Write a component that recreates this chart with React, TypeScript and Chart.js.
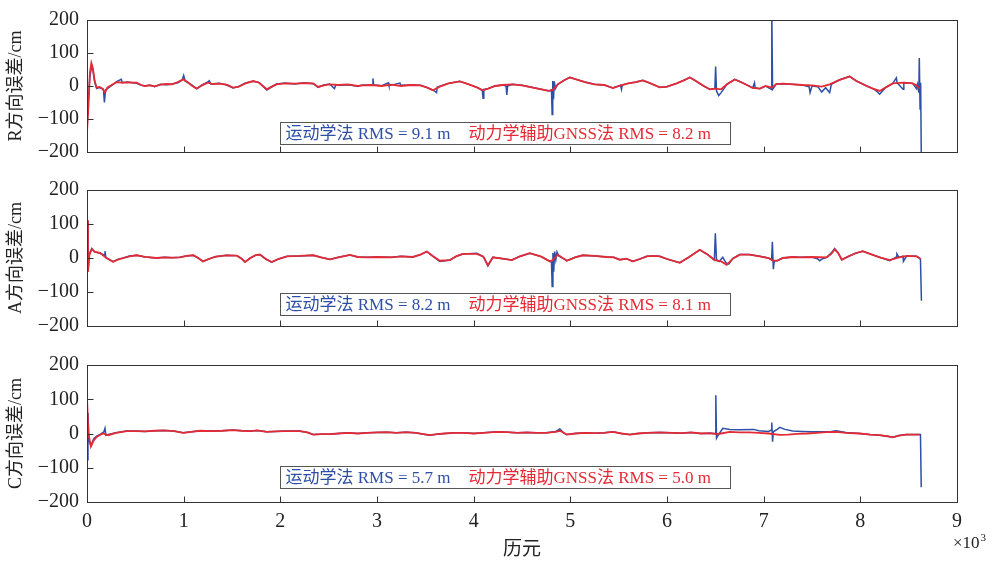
import React, { useEffect, useRef } from 'react';
import { Chart, registerables } from 'chart.js';
Chart.register(...registerables);

// ---------- data ----------
const X_MIN = 0;
const X_MAX = 9000;
const X_STEP = 1000;
const Y_TICKS = [-200, -100, 0, 100, 200];
const METHOD_NAMES = ['运动学法', '动力学辅助GNSS法'];
const AXIS_TITLES = ['R方向误差/cm', 'A方向误差/cm', 'C方向误差/cm'];
const RMS_R = [9.1, 8.2];
const RMS_A = [8.2, 8.1];
const RMS_C = [5.7, 5.0];
const X_TITLE = '历元';

// [epoch, error cm]
const R_RED: [number, number][] = [
  [0,-140],[15,-60],[30,40],[45,70],[60,55],[80,15],[100,-5],[130,-3],[160,-8],[186,-20],
  [210,-5],[250,2],[310,12],[360,10],[420,11],[515,10],[560,3],[600,0],[650,2],[700,-1],
  [760,4],[820,6],[880,5],[940,12],[995,20],[1040,12],[1090,0],[1135,-8],[1190,2],[1250,10],
  [1300,6],[1370,7],[1445,4],[1510,-5],[1565,-3],[1640,8],[1720,15],[1780,10],[1860,-10],[1910,-2],
  [1960,5],[2050,8],[2150,7],[2250,9],[2340,8],[2390,-3],[2450,2],[2510,5],[2600,3],[2700,5],
  [2800,0],[2850,2],[2950,3],[3050,0],[3150,4],[3250,0],[3350,3],[3450,2],[3520,-5],[3578,-13],
  [3650,-2],[3740,8],[3857,14],[3950,5],[4040,-5],[4095,-13],[4150,-8],[4220,0],[4300,3],[4400,5],
  [4500,2],[4600,-4],[4700,-10],[4780,-15],[4819,-12],[4870,5],[4940,18],[4995,26],[5060,20],[5150,12],
  [5250,5],[5350,3],[5440,-6],[5520,2],[5600,8],[5680,12],[5750,17],[5830,8],[5925,-4],[6000,-2],
  [6100,8],[6180,18],[6236,26],[6300,15],[6380,0],[6443,-10],[6500,-8],[6560,-10],[6620,5],[6701,20],
  [6780,10],[6887,-6],[6960,-8],[7020,0],[7084,-5],[7130,6],[7200,7],[7300,5],[7400,3],[7500,2],
  [7600,-2],[7683,5],[7780,18],[7890,29],[7960,15],[8066,0],[8130,-8],[8200,-15],[8260,-5],[8335,8],
  [8450,10],[8542,8],[8580,2],[8614,-8],
];
const R_BLUE: [number, number][] = [
  [0,-120],[15,-40],[30,30],[45,55],[60,50],[80,10],[100,-8],[130,-5],[170,-10],[180,-50],
  [192,-12],[250,0],[310,14],[355,20],[365,10],[420,12],[515,8],[560,2],[600,0],[650,3],
  [700,-2],[760,5],[820,4],[880,6],[940,10],[985,18],[1000,32],[1015,15],[1090,2],[1135,-8],
  [1190,3],[1250,12],[1265,16],[1280,6],[1370,8],[1445,3],[1510,-6],[1565,-2],[1640,9],[1720,14],
  [1780,11],[1860,-12],[1910,-3],[1960,6],[2050,9],[2150,6],[2250,10],[2340,7],[2390,-4],[2450,3],
  [2510,6],[2560,-8],[2575,4],[2600,2],[2700,4],[2800,-1],[2850,3],[2950,2],[2958,23],[2966,3],
  [3050,1],[3116,10],[3124,1],[3237,9],[3245,2],[3350,3],[3450,2],[3520,-5],[3578,-12],[3616,-20],
  [3624,-3],[3740,8],[3857,14],[3950,5],[4040,-5],[4090,-14],[4097,-37],[4105,-10],[4150,-8],[4220,0],
  [4300,3],[4335,0],[4343,-27],[4351,0],[4400,5],[4500,2],[4600,-4],[4700,-10],[4780,-15],[4805,-12],
  [4812,-86],[4818,15],[4826,-40],[4834,14],[4845,-8],[4870,5],[4940,18],[4995,26],[5060,20],[5150,12],
  [5250,5],[5350,3],[5440,-6],[5520,2],[5529,-10],[5537,3],[5600,8],[5680,12],[5750,17],[5830,8],
  [5925,-4],[6000,-2],[6100,8],[6180,18],[6236,26],[6300,15],[6380,0],[6443,-10],[6495,-8],[6503,59],
  [6512,-15],[6535,-29],[6560,-20],[6620,5],[6701,20],[6780,10],[6887,-6],[6905,10],[6912,-5],[6960,-8],
  [7020,0],[7078,-10],[7084,230],[7092,-10],[7130,6],[7200,7],[7300,5],[7400,3],[7470,-2],[7480,-20],
  [7500,0],[7560,-2],[7600,-18],[7640,-5],[7683,-20],[7700,5],[7780,18],[7890,29],[7960,15],[8066,0],
  [8130,-8],[8166,-15],[8200,-25],[8260,-5],[8335,8],[8373,25],[8380,10],[8442,-10],[8450,10],[8542,8],
  [8580,-8],[8590,5],[8605,-20],[8610,85],[8618,-70],[8624,10],[8632,-260],
];

const A_RED: [number, number][] = [
  [0,110],[10,-40],[25,10],[50,26],[80,18],[134,15],[200,0],[270,-11],[320,-5],[375,0],
  [440,5],[515,8],[600,3],[720,0],[800,2],[880,1],[960,2],[1030,6],[1100,8],[1150,0],
  [1200,-10],[1260,-3],[1330,4],[1440,8],[1550,7],[1600,-2],[1635,-12],[1690,0],[1750,9],[1790,10],
  [1850,-3],[1910,-12],[1980,-3],[2070,5],[2200,6],[2340,8],[2420,2],[2513,-4],[2600,2],[2720,9],
  [2800,3],[2900,2],[3000,3],[3150,2],[3250,5],[3371,3],[3450,10],[3516,19],[3580,5],[3650,-8],
  [3754,-6],[3820,5],[3888,12],[4033,12],[4100,4],[4147,-21],[4199,2],[4300,-2],[4395,-6],[4480,5],
  [4581,14],[4700,4],[4788,-10],[4819,-6],[4870,10],[4964,-8],[5050,2],[5129,8],[5250,6],[5378,3],
  [5450,2],[5512,-5],[5580,-2],[5646,-10],[5720,-3],[5791,5],[5860,6],[5925,5],[6000,-3],[6132,-14],
  [6230,3],[6339,24],[6420,10],[6494,-6],[6560,-10],[6618,-20],[6680,-2],[6753,10],[6850,10],[6960,5],
  [7050,0],[7094,-8],[7140,-8],[7198,0],[7300,3],[7373,2],[7500,3],[7652,2],[7700,12],[7735,25],
  [7770,15],[7808,-5],[7880,5],[7950,14],[8025,20],[8100,12],[8200,2],[8304,-6],[8400,2],[8480,6],
  [8583,5],[8625,-3],
];
const A_BLUE: [number, number][] = [
  [0,110],[10,-40],[25,12],[50,28],[80,18],[134,14],[180,8],[186,20],[195,2],[270,-11],
  [320,-4],[375,0],[440,6],[515,8],[600,3],[720,0],[800,2],[880,1],[960,2],[1030,6],
  [1100,8],[1150,0],[1200,-10],[1260,-3],[1330,4],[1440,8],[1550,7],[1600,-2],[1635,-12],[1690,0],
  [1750,9],[1790,10],[1850,-3],[1910,-12],[1980,-3],[2070,5],[2200,6],[2340,8],[2420,2],[2513,-4],
  [2600,2],[2720,9],[2800,3],[2900,2],[3000,3],[3150,2],[3250,5],[3371,3],[3450,10],[3516,19],
  [3580,5],[3650,-10],[3754,-6],[3820,5],[3888,12],[4033,14],[4100,4],[4147,-23],[4199,2],[4300,-2],
  [4395,-6],[4480,5],[4581,14],[4700,4],[4788,-10],[4805,-12],[4812,-84],[4820,15],[4828,-40],[4838,19],
  [4850,-5],[4862,18],[4880,6],[4964,-8],[5050,2],[5129,8],[5250,6],[5378,3],[5450,2],[5512,-5],
  [5580,-2],[5646,-10],[5720,-3],[5791,5],[5860,6],[5925,5],[6000,-3],[6132,-14],[6230,3],[6339,24],
  [6420,10],[6490,-6],[6500,73],[6512,-5],[6540,-10],[6577,2],[6610,-14],[6640,-18],[6680,-2],[6753,10],
  [6850,10],[6960,5],[7050,0],[7082,-5],[7090,48],[7100,-33],[7110,-8],[7140,-8],[7198,0],[7300,3],
  [7373,2],[7500,3],[7560,-3],[7580,-8],[7610,-2],[7652,2],[7700,15],[7735,28],[7770,15],[7808,-5],
  [7880,5],[7950,14],[8025,20],[8100,12],[8200,2],[8304,-8],[8373,3],[8378,12],[8400,2],[8442,5],
  [8446,-10],[8480,6],[8583,5],[8622,-3],[8632,-126],
];

const C_RED: [number, number][] = [
  [0,103],[15,0],[40,-38],[70,-20],[100,-10],[140,-3],[170,0],[186,-2],[220,-5],[300,2],
  [410,7],[500,7],[600,6],[700,8],[800,9],[900,7],[995,2],[1080,5],[1170,8],[1300,7],
  [1400,8],[1510,10],[1600,8],[1700,7],[1760,9],[1860,5],[1950,6],[2050,7],[2200,7],[2280,3],
  [2340,-3],[2420,-2],[2510,-2],[2600,0],[2700,2],[2800,0],[2900,2],[3000,3],[3100,4],[3200,2],
  [3300,4],[3400,2],[3480,-2],[3547,-5],[3620,-2],[3700,0],[3800,2],[3900,2],[4000,0],[4100,2],
  [4240,5],[4350,4],[4450,2],[4550,3],[4650,2],[4750,2],[4850,5],[4891,8],[4930,2],[4964,-3],
  [5050,0],[5150,2],[5250,1],[5350,2],[5440,5],[5530,0],[5615,-3],[5700,0],[5800,2],[5925,3],
  [6050,2],[6150,1],[6250,3],[6350,0],[6450,1],[6505,-2],[6560,0],[6650,5],[6750,3],[6850,3],
  [6950,2],[7050,0],[7167,-4],[7250,-3],[7350,-1],[7450,0],[7550,2],[7650,4],[7750,5],[7850,2],
  [7993,0],[8100,-3],[8200,-5],[8280,-8],[8335,-11],[8400,-6],[8473,-3],[8550,-3],[8614,-3],
];
const C_BLUE: [number, number][] = [
  [0,-77],[10,60],[20,-20],[40,-35],[70,-15],[100,-8],[140,-2],[175,5],[186,15],[195,-5],
  [220,-3],[300,2],[410,7],[500,7],[600,6],[700,8],[800,9],[900,7],[995,2],[1080,5],
  [1170,8],[1300,7],[1400,8],[1510,10],[1600,8],[1700,7],[1760,9],[1860,5],[1950,6],[2050,7],
  [2200,7],[2280,3],[2340,-3],[2420,-2],[2510,-2],[2600,0],[2700,2],[2800,0],[2900,2],[3000,3],
  [3100,4],[3200,2],[3300,4],[3400,2],[3480,-2],[3547,-5],[3620,-2],[3700,0],[3800,2],[3900,2],
  [4000,0],[4100,2],[4240,5],[4350,4],[4450,2],[4550,3],[4650,2],[4750,2],[4850,6],[4891,13],
  [4930,2],[4964,-3],[5050,0],[5150,2],[5250,1],[5350,2],[5440,5],[5530,0],[5615,-3],[5700,0],
  [5800,2],[5925,3],[6050,2],[6150,1],[6250,3],[6350,0],[6450,1],[6498,0],[6505,112],[6512,-14],
  [6530,-5],[6577,15],[6650,12],[6750,11],[6897,12],[6950,8],[7050,6],[7080,10],[7084,32],[7092,-24],
  [7100,5],[7140,12],[7167,18],[7220,12],[7300,7],[7400,6],[7500,5],[7600,5],[7700,6],[7750,8],
  [7850,3],[7993,0],[8100,-3],[8200,-5],[8280,-8],[8335,-11],[8400,-6],[8473,-3],[8550,-3],[8622,-3],
  [8630,-157],
];

// ---------- styles ----------
const BLUE = '#2d4fa6';
const RED = '#e42a35';
const AXIS = '#333333';
const SERIF = '"Liberation Serif", "Times New Roman", "Noto Sans CJK SC", serif';

type Panel = {
  title: string;
  red: [number, number][];
  blue: [number, number][];
  rms: number[];
  top: number;
  bottom: number;
  legendTop: number;
  showX: boolean;
};

const PANELS: Panel[] = [
  { title: AXIS_TITLES[0], red: R_RED, blue: R_BLUE, rms: RMS_R, top: 16, bottom: 152, legendTop: 122, showX: false },
  { title: AXIS_TITLES[1], red: A_RED, blue: A_BLUE, rms: RMS_A, top: 190, bottom: 326, legendTop: 293, showX: false },
  { title: AXIS_TITLES[2], red: C_RED, blue: C_BLUE, rms: RMS_C, top: 365, bottom: 502, legendTop: 466, showX: true },
];

const W = 992;
const H = 567;
const LEFT = 87;
const RIGHT = 957;
const X_AXIS_H = 65;

function makeChart(canvas: HTMLCanvasElement, p: Panel) {
  const framePlugin = {
    id: 'frame',
    afterDraw(chart: any) {
      const { ctx, chartArea: a, scales } = chart;
      ctx.save();
      ctx.strokeStyle = AXIS;
      ctx.lineWidth = 1;
      const l = Math.round(a.left) + 0.5;
      const t = Math.round(a.top) + 0.5;
      const r = Math.round(a.right) + 0.5;
      const b = Math.round(a.bottom) + 0.5;
      ctx.strokeRect(l, t, r - l, b - t);
      const ys = scales.y;
      ys.ticks.forEach((tk: any) => {
        const py = Math.round(ys.getPixelForValue(tk.value)) + 0.5;
        ctx.beginPath();
        ctx.moveTo(l, py);
        ctx.lineTo(l + 6, py);
        ctx.stroke();
      });
      const xs = scales.x;
      xs.ticks.forEach((tk: any) => {
        const px = Math.round(xs.getPixelForValue(tk.value)) + 0.5;
        ctx.beginPath();
        ctx.moveTo(px, b);
        ctx.lineTo(px, b - 6);
        ctx.stroke();
      });
      // legend box
      const bx = 280.5, bw = 450, bh = 22;
      const by = p.legendTop + 0.5;
      ctx.fillStyle = '#ffffff';
      ctx.fillRect(bx, by, bw, bh);
      ctx.strokeStyle = '#555555';
      ctx.strokeRect(bx, by, bw, bh);
      ctx.font = '17px ' + SERIF;
      ctx.textBaseline = 'middle';
      ctx.textAlign = 'left';
      const t1 = `${METHOD_NAMES[0]} RMS = ${p.rms[0].toFixed(1)} m`;
      const t2 = `${METHOD_NAMES[1]} RMS = ${p.rms[1].toFixed(1)} m`;
      ctx.fillStyle = BLUE;
      ctx.fillText(t1, bx + 5, by + bh / 2 + 1);
      const w1 = ctx.measureText(t1).width;
      ctx.fillStyle = RED;
      ctx.fillText(t2, bx + 5 + w1 + 18, by + bh / 2 + 1);
      if (p.showX) {
        ctx.fillStyle = '#222';
        ctx.textBaseline = 'alphabetic';
        ctx.font = '17px ' + SERIF;
        ctx.fillText('×10', a.right - 4, 548);
        const w = ctx.measureText('×10').width;
        ctx.font = '11px ' + SERIF;
        ctx.fillText('3', a.right - 4 + w + 1, 541);
      }
      ctx.restore();
    },
  };

  return new Chart(canvas, {
    type: 'line',
    data: {
      datasets: [
        {
          label: METHOD_NAMES[1],
          data: p.red.map(([x, y]) => ({ x, y })),
          borderColor: RED,
          borderWidth: 1.8,
          pointRadius: 0,
          tension: 0,
        },
        {
          label: METHOD_NAMES[0],
          data: p.blue.map(([x, y]) => ({ x, y })),
          borderColor: BLUE,
          borderWidth: 1.5,
          pointRadius: 0,
          tension: 0,
        },
      ],
    },
    options: {
      responsive: false,
      animation: false,
      events: [],
      layout: {
        padding: {
          left: 0,
          right: W - RIGHT,
          top: p.top,
          bottom: H - p.bottom - (p.showX ? X_AXIS_H : 0),
        },
      },
      plugins: { legend: { display: false }, tooltip: { enabled: false } },
      scales: {
        x: {
          type: 'linear',
          min: X_MIN,
          max: X_MAX,
          afterFit: (s: any) => { s.height = p.showX ? X_AXIS_H : 0; },
          grid: { display: false, drawTicks: false },
          border: { display: false },
          ticks: {
            display: p.showX,
            stepSize: X_STEP,
            padding: 8,
            color: '#222',
            font: { family: SERIF, size: 20 },
            callback: (v: any) => String(Number(v) / 1000),
            maxRotation: 0,
          },
          title: {
            display: p.showX,
            text: X_TITLE,
            color: '#222',
            font: { family: SERIF, size: 19 },
            padding: { top: 0, bottom: 6 },
          },
        },
        y: {
          type: 'linear',
          min: Y_TICKS[0],
          max: Y_TICKS[Y_TICKS.length - 1],
          afterFit: (s: any) => { s.width = LEFT; },
          afterBuildTicks: (s: any) => { s.ticks = Y_TICKS.map((v) => ({ value: v })); },
          grid: { display: false, drawTicks: false },
          border: { display: false },
          ticks: {
            padding: 8,
            color: '#222',
            font: { family: SERIF, size: 20 },
            callback: (v: any) => (Number(v) < 0 ? '\u2212' + Math.abs(Number(v)) : String(v)),
          },
          title: {
            display: true,
            text: p.title,
            color: '#222',
            font: { family: SERIF, size: 18 },
            padding: { top: 5, bottom: 0 },
          },
        },
      },
    },
    plugins: [framePlugin],
  } as any);
}

function PanelCanvas({ p }: { p: Panel }) {
  const ref = useRef<HTMLCanvasElement | null>(null);
  useEffect(() => {
    if (!ref.current) return;
    const c = makeChart(ref.current, p);
    return () => c.destroy();
  }, [p]);
  return (
    <canvas
      ref={ref}
      width={W}
      height={H}
      style={{ position: 'absolute', left: 0, top: 0, width: W, height: H }}
    />
  );
}

export default function App() {
  return (
    <div style={{ position: 'fixed', left: 0, top: 0, width: W, height: H, background: '#fff' }}>
      {PANELS.map((p, i) => (
        <PanelCanvas key={i} p={p} />
      ))}
    </div>
  );
}
